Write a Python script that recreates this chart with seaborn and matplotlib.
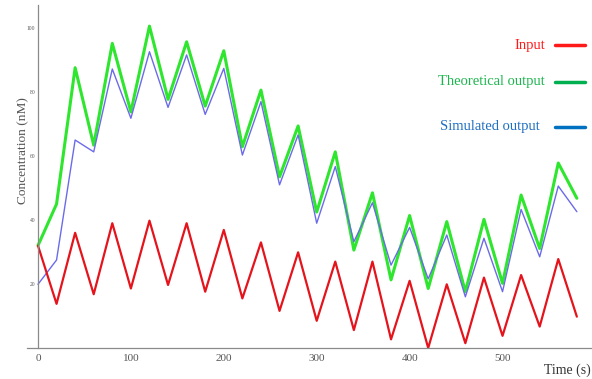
import numpy as np
import pandas as pd
import matplotlib
matplotlib.use("Agg")
import matplotlib.pyplot as plt
from matplotlib.ticker import MultipleLocator
import seaborn as sns

# time points (every 20 units)
time = list(range(0, 600, 20))

# values
input_vals = [32, 13.8, 36, 16.8, 39, 18.6, 39.8, 19.7, 39, 17.6,
              36.9, 15.5, 33, 11.6, 29.9, 8.5, 27, 5.6, 27, 2.7,
              21, 0, 19.9, 1.5, 22, 3.8, 22.8, 6.7, 27.8, 9.8]
theoretical = [32, 45, 87.6, 63.4, 95.2, 73.8, 100.6, 77.7, 95.7, 75.6,
               92.9, 62.9, 80.6, 53.5, 69.4, 42.5, 61.3, 30.6, 48.5, 21.3,
               41.4, 18.6, 39.5, 17.6, 40.2, 20.2, 47.8, 31.1, 57.8, 46.8]
simulated = [19.9, 27.5, 65, 61.3, 87.2, 71.8, 92.6, 75.2, 91.6, 73,
             87.4, 60.3, 77, 51, 66.6, 39, 56.7, 33.2, 45.4, 25.9,
             37.7, 21.6, 35.3, 16, 34.3, 17.6, 43.3, 28.5, 50.6, 42.6]

df = pd.DataFrame({"time": time, "input": input_vals,
                   "theoretical": theoretical, "simulated": simulated})

sns.set_style("white")
plt.rcParams["font.family"] = ["Liberation Serif", "DejaVu Serif"]

fig = plt.figure(figsize=(5.92, 3.79), dpi=100)
ax = fig.add_axes([27 / 592, 1 - 348 / 379, 1 - 27 / 592, 343 / 379])

#draw the three series
sns.lineplot(data=df, x="time", y="theoretical", ax=ax, color="#2ee62e", lw=2.2)
sns.lineplot(data=df, x="time", y="simulated", ax=ax, color="#6b6bea", lw=1.0)
sns.lineplot(data=df, x="time", y="input", ax=ax, color="#e5141c", lw=1.6)

ax.set_xlim(-11.8, 596.3)
ax.set_ylim(0, 107.2)

#mathematica-like axes crossing at origin
for s in ["top", "right"]:
    ax.spines[s].set_visible(False)
ax.spines["left"].set_position(("data", 0))
ax.spines["bottom"].set_position(("data", 0))
for s in ["left", "bottom"]:
    ax.spines[s].set_color("#8a8a8a")
    ax.spines[s].set_linewidth(0.9)

ax.xaxis.set_major_locator(MultipleLocator(100))
ax.xaxis.set_minor_locator(MultipleLocator(20))
ax.yaxis.set_major_locator(MultipleLocator(20))
ax.yaxis.set_minor_locator(MultipleLocator(5))
ax.set_yticks([20, 40, 60, 80, 100])
ax.tick_params(axis="x", which="major", direction="inout", length=5, width=0.7,
               color="#8a8a8a", labelsize=8, labelcolor="#555555", pad=2)
ax.tick_params(axis="x", which="minor", direction="inout", length=3, width=0.6,
               color="#8a8a8a")
ax.tick_params(axis="y", which="major", direction="inout", length=4, width=0.6,
               color="#8a8a8a", labelsize=4, labelcolor="#555555", pad=0)
ax.tick_params(axis="y", which="minor", direction="inout", length=2.5, width=0.5,
               color="#8a8a8a")
ax.set_xlabel("")
ax.set_ylabel("Concentration (nM)", fontsize=9.6, color="#555555")
ax.yaxis.set_label_coords(0.004, 0.577)

fig.text(591 / 592, 1 - 370 / 379, "Time (s)", fontsize=10, color="#333333",
         va="center", ha="right")

#legend drawn as text + short lines
labels = ["Input", "Theoretical output", "Simulated output"]
text_colors = ["#ff1a1a", "#1db64e", "#1f6fc0"]
line_colors = ["#ff1a1a", "#00b050", "#0070c0"]
text_right = [545, 545, 540]
rows = [45, 82, 127]
for lab, tc, lc, xr, yr in zip(labels, text_colors, line_colors, text_right, rows):
    fy = 1 - yr / 379
    fig.text(xr / 592, fy, lab, color=tc, fontsize=10.5, ha="right", va="center")
    fig.add_artist(plt.Line2D([555 / 592, 585 / 592], [fy, fy], color=lc, lw=2.5,
                              transform=fig.transFigure))

fig.savefig("out.png", dpi=100)
